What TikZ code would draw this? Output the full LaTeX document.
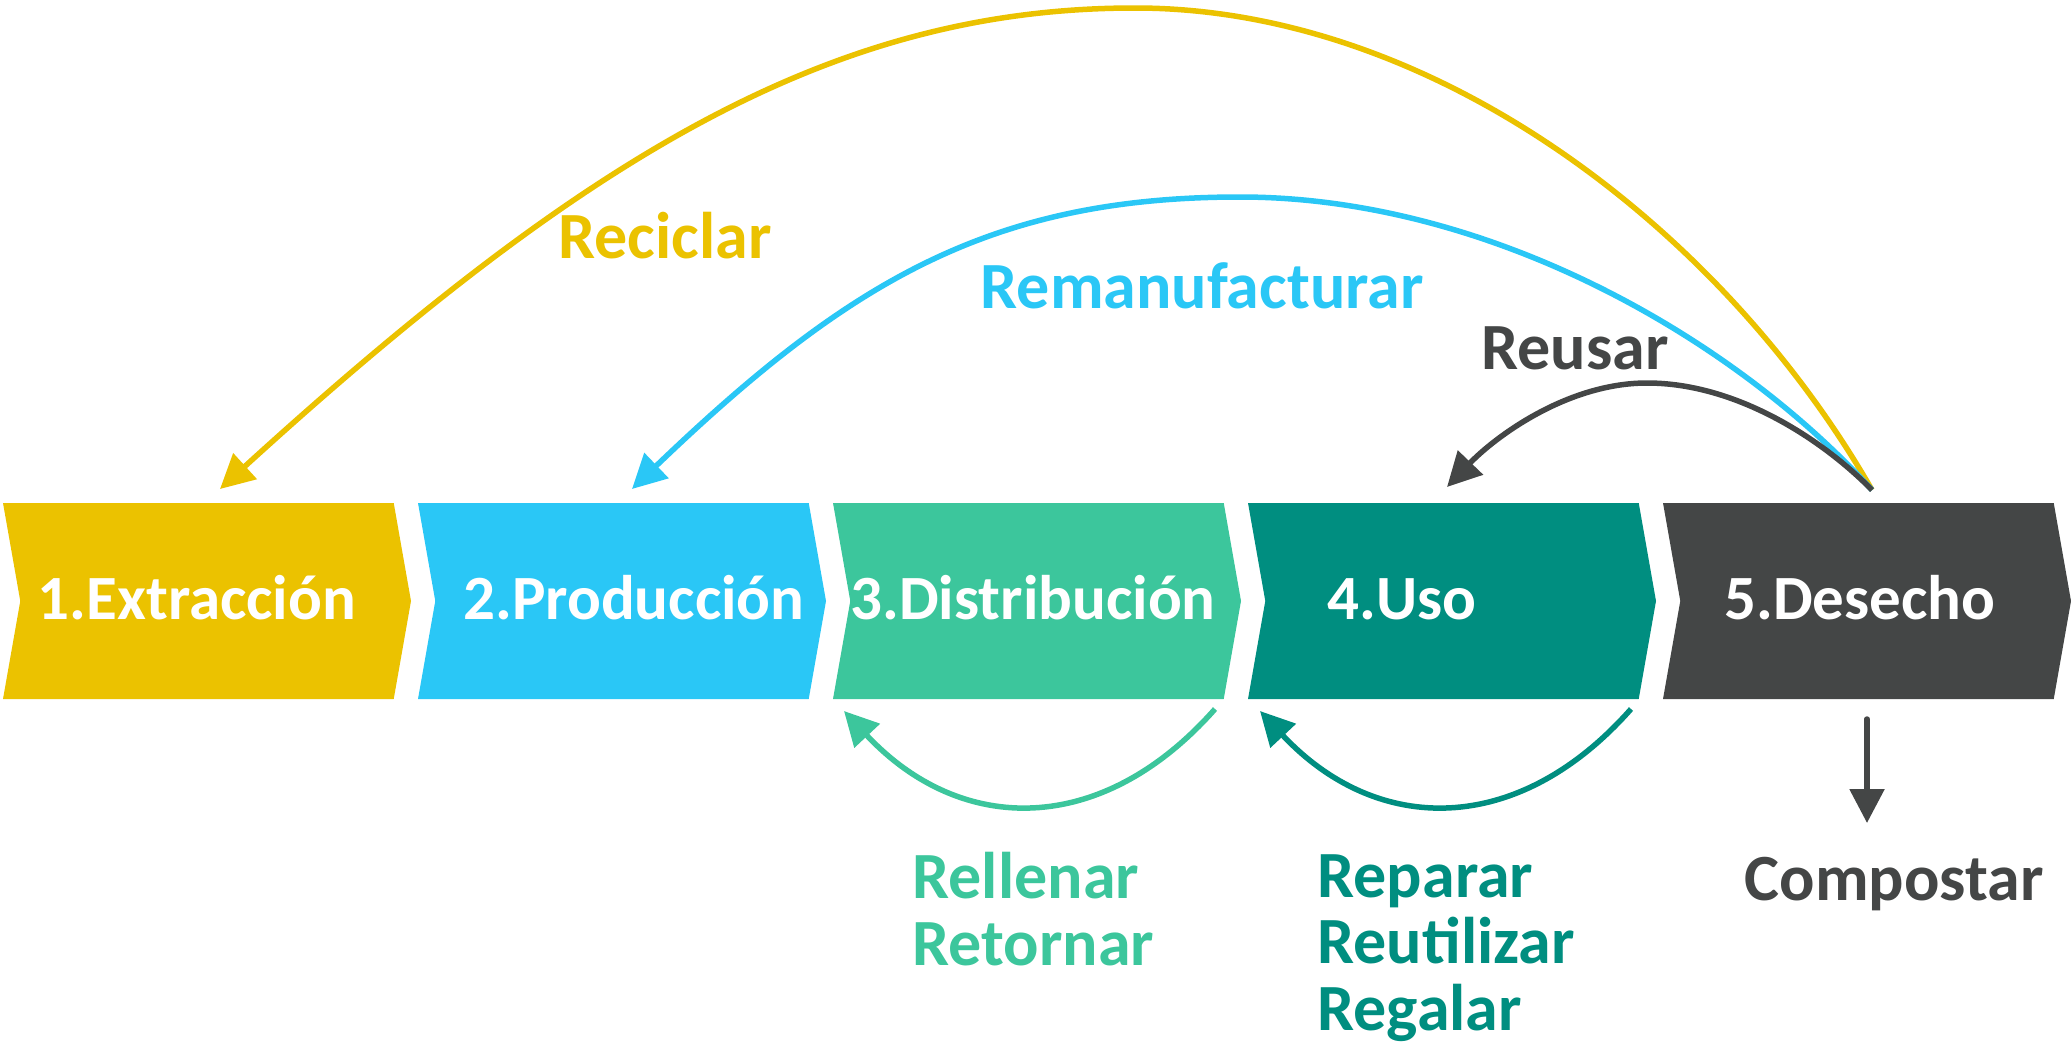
\documentclass[tikz,border=0pt]{standalone}
\usepackage{fontspec}
\setmainfont{Carlito}
\usetikzlibrary{shapes.symbols,arrows.meta}

\definecolor{extcol}{RGB}{235,194,0}
\definecolor{prodcol}{RGB}{42,199,246}
\definecolor{distcol}{RGB}{60,198,156}
\definecolor{usocol}{RGB}{0,142,128}
\definecolor{descol}{RGB}{68,70,70}

\tikzset{
 chev/.style={signal, signal to=east, signal from=west, signal pointer angle=160, minimum width=408pt, minimum height=196pt, inner sep=0pt},
 chevtext/.style={anchor=base, text=white, font=\fontsize{63}{70}\selectfont\bfseries},
 rtext/.style={anchor=base, font=\fontsize{66}{66.5}\selectfont\bfseries},
 backarrow/.style={line width=5.5pt, -{Triangle[length=34pt,width=34pt]}},
}

\begin{document}
\begin{tikzpicture}[x=1pt,y=-1pt]
 \useasboundingbox (0,0) rectangle (2071,1045);

 \node (ext) [chev, fill=extcol] at (207,601) {};
 \node (prod) [chev, fill=prodcol] at (622,601) {};
 \node (dist) [chev, fill=distcol] at (1037,601) {};
 \node (uso) [chev, fill=usocol] at (1452,601) {};
 \node (des) [chev, fill=descol] at (1867,601) {};

 \node (extlbl) [chevtext] at (197,619) {1.Extracción};
 \node (prodlbl) [chevtext] at (634,619) {2.Producción};
 \node (distlbl) [chevtext] at (1033,619) {3.Distribución};
 \node (usolbl) [chevtext] at (1402,619) {4.Uso};
 \node (deslbl) [chevtext] at (1860,619) {5.Desecho};

 \node (reciclar) [rtext, text=extcol] at (665,258) {Reciclar};
 \node (reman) [rtext, text=prodcol] at (1202,308) {Remanufacturar};
 \node (reusar) [rtext, text=descol] at (1575,369) {Reusar};
 \node (compost) [rtext, text=descol] at (1894,900) {Compostar};
 \node (distlist) [rtext, text=distcol, anchor=base west, align=left] at (909,965) {Rellenar\\Retornar};
 \node (usolist) [rtext, text=usocol, anchor=base west, align=left] at (1314,1030) {Reparar\\Reutilizar\\Regalar};

 \coordinate (desTop) at (1872,490);
 \coordinate (extIn) at (220,489);
 \coordinate (prodIn) at (632,489);
 \coordinate (usoIn) at (1447,487);
 \coordinate (distOut) at (1215,709);
 \coordinate (distIn) at (844,711);
 \coordinate (usoOut) at (1631,709);
 \coordinate (usoBack) at (1260,711);
 \coordinate (desOut) at (1867,719);
 \coordinate (compIn) at (1867,823);

 % reciclar / remanufacturar / reusar
 \draw [backarrow, extcol] (desTop) .. controls (1723,230) and (1435,8) .. (1135,8)
   .. controls (835,8) and (590,152) .. (extIn);
 \draw [backarrow, prodcol] (desTop) .. controls (1735,339) and (1490,197) .. (1240,197)
   .. controls (990,197) and (848,282) .. (prodIn);
 \draw [backarrow, descol] (desTop) .. controls (1823,440) and (1737,383) .. (1647,383)
   .. controls (1567,383) and (1495,437) .. (usoIn);

 % loops under the chevrons
 \draw [backarrow, distcol] (distOut) .. controls (1102,837) and (961,836) .. (distIn);
 \draw [backarrow, usocol] (usoOut) .. controls (1518,837) and (1377,836) .. (usoBack);
 \draw [backarrow, descol, line cap=round] (desOut) -- (compIn);
\end{tikzpicture}
\end{document}
